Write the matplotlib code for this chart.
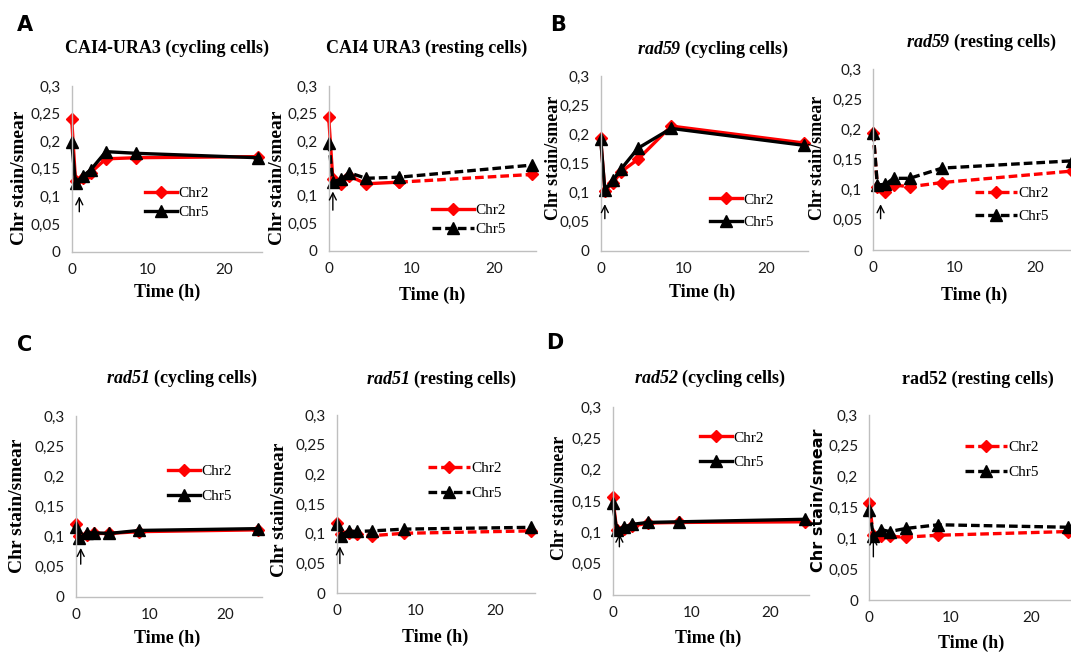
import matplotlib
matplotlib.use("Agg")
import matplotlib.pyplot as plt
from matplotlib.lines import Line2D

# only the gene names go through mathtext, so make every math font bold italic
plt.rcParams['mathtext.fontset'] = 'custom'
plt.rcParams['mathtext.it'] = 'Liberation Serif:italic:bold'
plt.rcParams['mathtext.rm'] = 'Liberation Serif:italic:bold'
plt.rcParams['mathtext.bf'] = 'Liberation Serif:italic:bold'

# time points (h)
times = [0, 0.5, 1.5, 2.5, 4.5, 8.5, 24.5]

# Chr stain/smear values
cai4_cyc_chr2 = [0.240, 0.128, 0.133, 0.143, 0.168, 0.170, 0.172]
cai4_cyc_chr5 = [0.198, 0.124, 0.137, 0.148, 0.181, 0.178, 0.170]
cai4_rest_chr2 = [0.243, 0.130, 0.122, 0.136, 0.122, 0.125, 0.139]
cai4_rest_chr5 = [0.197, 0.126, 0.130, 0.142, 0.132, 0.134, 0.156]
rad59_cyc_chr2 = [0.193, 0.103, 0.117, 0.136, 0.157, 0.214, 0.185]
rad59_cyc_chr5 = [0.191, 0.104, 0.121, 0.141, 0.176, 0.210, 0.181]
rad59_rest_chr2 = [0.195, 0.105, 0.097, 0.108, 0.105, 0.112, 0.131]
rad59_rest_chr5 = [0.195, 0.108, 0.109, 0.119, 0.119, 0.136, 0.148]
rad51_cyc_chr2 = [0.121, 0.101, 0.102, 0.105, 0.105, 0.108, 0.111]
rad51_cyc_chr5 = [0.116, 0.097, 0.106, 0.106, 0.105, 0.110, 0.113]
rad51_rest_chr2 = [0.119, 0.100, 0.101, 0.099, 0.097, 0.101, 0.105]
rad51_rest_chr5 = [0.117, 0.097, 0.105, 0.104, 0.105, 0.108, 0.111]
rad52_cyc_chr2 = [0.157, 0.104, 0.105, 0.110, 0.115, 0.116, 0.117]
rad52_cyc_chr5 = [0.147, 0.104, 0.109, 0.113, 0.116, 0.117, 0.121]
rad52_rest_chr2 = [0.157, 0.105, 0.104, 0.103, 0.102, 0.105, 0.111]
rad52_rest_chr5 = [0.146, 0.104, 0.114, 0.111, 0.116, 0.122, 0.118]

titles = ['CAI4-URA3 (cycling cells)', 'CAI4 URA3 (resting cells)',
          r'$rad59$ (cycling cells)', r'$rad59$ (resting cells)',
          r'$rad51$ (cycling cells)', r'$rad51$ (resting cells)',
          r'$rad52$ (cycling cells)', 'rad52 (resting cells)']
series = [(cai4_cyc_chr2, cai4_cyc_chr5), (cai4_rest_chr2, cai4_rest_chr5),
          (rad59_cyc_chr2, rad59_cyc_chr5), (rad59_rest_chr2, rad59_rest_chr5),
          (rad51_cyc_chr2, rad51_cyc_chr5), (rad51_rest_chr2, rad51_rest_chr5),
          (rad52_cyc_chr2, rad52_cyc_chr5), (rad52_rest_chr2, rad52_rest_chr5)]
resting = [False, True, False, True, False, True, False, True]
yticks = [0, 0.05, 0.1, 0.15, 0.2, 0.25, 0.3]
ytick_labels = ['0', '0,05', '0,1', '0,15', '0,2', '0,25', '0,3']
xticks = [0, 10, 20]
panel_letters = ['A', 'B', 'C', 'D']

W, H = 1071, 652

# layout in pixels: axis x0, x at t=25, y at 0.3, y at 0
boxes = [(71.7, 261.7, 86, 251.5), (328.7, 536, 86, 250.8),
         (600.7, 808, 76, 250.7), (873.3, 1075.8, 69.3, 250),
         (75.5, 262, 416, 596.7), (336.7, 535, 415, 593.3),
         (612.7, 809, 407.3, 595), (869.3, 1072, 415, 600)]
title_pos = [(167, 48), (427, 48), (713, 49), (981, 42),
             (182, 378), (442, 379), (710, 378), (978, 379)]
ylab_pos = [(20, 178, 14), (277, 178, 14), (553, 158, 13), (818, 158, 13),
            (18, 506, 14), (280, 510, 14), (560, 498, 13), (818, 500, 12.5)]
xlab_pos = [(167, 292), (432, 295), (702, 292), (974, 295),
            (167, 638), (435, 637), (708, 638), (971, 643)]
leg_pos = [(145, 203, 0.35), (432, 220, 0.35), (710, 211, 0.55), (975, 205, 0.6),
           (168, 484, 0.75), (428, 481, 0.75), (700, 450, 0.7), (965, 460, 0.75)]
arrows = [(1.0, 0.100, 0.072), (0.5, 0.108, 0.074), (0.5, 0.080, 0.055), (0.9, 0.076, 0.052),
          (0.7, 0.081, 0.054), (0.4, 0.079, 0.050), (0.85, 0.098, 0.077), (0.5, 0.103, 0.070)]
letter_pos = [(25, 25), (558, 25), (25, 345), (555, 343)]


def fx(x):
    return x / W


def fy(y):
    return 1 - y / H


fig = plt.figure(figsize=(10.71, 6.52), dpi=100)
dash = (0, (2.6, 1.2))

for i in range(8):
    x0, x25, y3, y0 = boxes[i]
    ax = fig.add_axes([fx(x0), fy(y0), (x25 - x0) / W, (y0 - y3) / H])
    chr2, chr5 = series[i]
    ls = dash if resting[i] else '-'
    mk2 = dict(color='red', marker='D', markersize=6, lw=2.4, clip_on=False)
    mk5 = dict(color='black', marker='^', markersize=8, lw=2.4, clip_on=False)
    if i == 1:
        # solid up to 8.5 h, dashed afterwards
        ax.plot(times[:6], chr2[:6], ls='-', **mk2)
        ax.plot(times[5:], chr2[5:], ls=dash, **mk2)
        h2 = Line2D([], [], ls='-', **mk2)
    else:
        ax.plot(times, chr2, ls=ls, **mk2)
        h2 = Line2D([], [], ls=ls, **mk2)
    ax.plot(times, chr5, ls=ls, **mk5)
    h5 = Line2D([], [], ls=ls, **mk5)

    ax.set_xlim(0, 25)
    ax.set_ylim(0, 0.3)
    ax.set_yticks(yticks)
    ax.set_yticklabels(ytick_labels)
    ax.set_xticks(xticks)
    ax.tick_params(length=0, pad=8, labelsize=11, labelcolor='#1a1a1a')
    for lab in ax.get_xticklabels() + ax.get_yticklabels():
        lab.set_fontfamily('Lato')
    for s in ['top', 'right']:
        ax.spines[s].set_visible(False)
    for s in ['left', 'bottom']:
        ax.spines[s].set_color('#bfbfbf')
        ax.spines[s].set_linewidth(1)

    t, tip, tail = arrows[i]
    ax.annotate('', xy=(t, tip), xytext=(t, tail),
                arrowprops=dict(arrowstyle='->,head_length=0.5,head_width=0.25',
                                color='black', lw=1, shrinkA=0, shrinkB=0))

    lx, ly, sp = leg_pos[i]
    ax.legend([h2, h5], ['Chr2', 'Chr5'], loc='center left',
              bbox_to_anchor=(fx(lx), fy(ly)), bbox_transform=fig.transFigure,
              frameon=False, borderpad=0, borderaxespad=0, numpoints=1,
              handlelength=2.75 if resting[i] else 2.1, handletextpad=0.1,
              labelspacing=sp, prop={'family': 'Liberation Serif', 'size': 11})

    tx, ty = title_pos[i]
    fig.text(fx(tx), fy(ty), titles[i], ha='center', va='center',
             family='Liberation Serif', weight='bold', fontsize=13)
    yx, yy, ys = ylab_pos[i]
    fam = 'DejaVu Sans' if i == 7 else 'Liberation Serif'
    fig.text(fx(yx), fy(yy), 'Chr stain/smear', rotation=90, ha='center', va='center',
             family=fam, weight='bold', fontsize=ys if i != 7 else 11.5)
    xx, xy = xlab_pos[i]
    fig.text(fx(xx), fy(xy), 'Time (h)', ha='center', va='center',
             family='Liberation Serif', weight='bold', fontsize=13)

for k in range(4):
    lx, ly = letter_pos[k]
    fig.text(fx(lx), fy(ly), panel_letters[k], ha='center', va='center',
             family='DejaVu Sans', weight='bold', fontsize=15)

fig.savefig('out.png', dpi=100)
